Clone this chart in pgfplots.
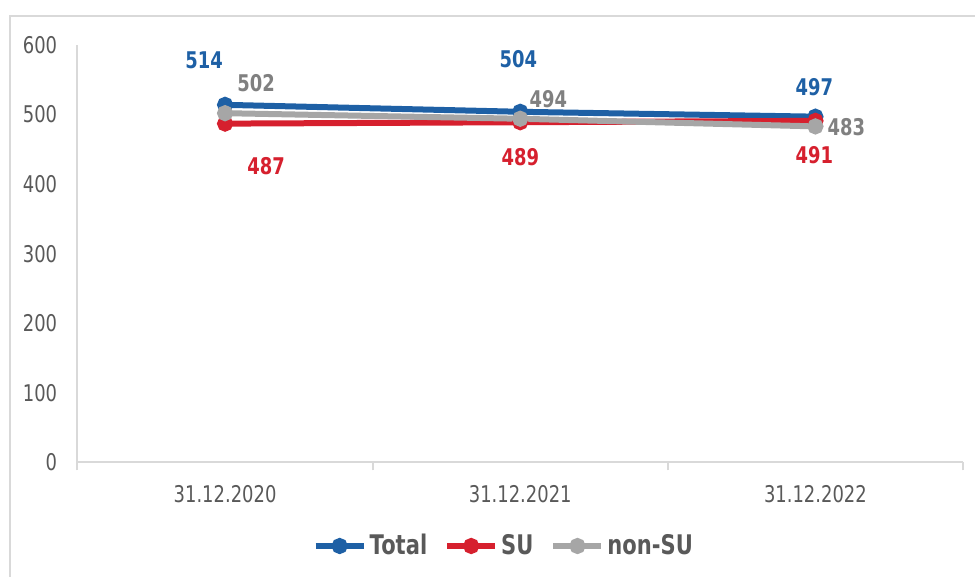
\documentclass[border=0pt]{standalone}
\usepackage{fontspec}
\setmainfont[FakeStretch=0.78]{DejaVu Sans}
\usepackage{pgfplots}
\usepackage{pgfplotstable}
\pgfplotsset{compat=1.18}
\definecolor{cblue}{RGB}{30,96,165}
\definecolor{cred}{RGB}{214,32,46}
\definecolor{cgray}{RGB}{166,166,166}
\definecolor{lgray}{RGB}{128,128,128}
\definecolor{tgray}{RGB}{89,89,89}
\definecolor{fgray}{RGB}{217,217,217}

\pgfplotstableread{
x y dx dy
0 514 -10.5 22.5
1 504 -1 26.5
2 497 -0.5 15
}\total
\pgfplotstableread{
x y dx dy
0 487 20.5 -21.5
1 489 0 -17.5
2 491 -0.5 -17
}\su
\pgfplotstableread{
x y dx dy
0 502 15.5 15
1 494 14 10
2 483 15.5 -0.5
}\nonsu

\begin{document}
\begin{tikzpicture}
\path[use as bounding box] (0,0) rectangle (487.5pt,288.5pt);
\draw[fgray, line width=1pt] (5pt,0pt) -- (5pt,280.5pt) -- (487.5pt,280.5pt);
\begin{axis}[
  at={(38.75pt,57.25pt)}, anchor=south west,
  scale only axis, width=442.75pt, height=208.75pt,
  xmin=-0.5, xmax=2.5, ymin=0, ymax=600,
  clip=false,
  axis x line*=bottom, axis y line*=left,
  axis line style={fgray, line width=1pt, -},
  xtick={0,1,2},
  xticklabels={31.12.2020,31.12.2021,31.12.2022},
  minor xtick={-0.5,0.5,1.5,2.5},
  ytick={0,100,...,600},
  major tick length=0pt,
  minor tick length=4pt,
  tick align=outside,
  minor tick style={fgray, line width=1pt},
  major tick style={draw=none},
  /pgf/number format/assume math mode=true,
  tick label style={font=\fontsize{11.5}{13}\selectfont, text=tgray},
  yticklabel style={inner sep=0pt, xshift=-10pt},
  xticklabel style={inner sep=0pt, anchor=north, yshift=-11.5pt},
  legend image code/.code={\draw[#1,mark repeat=2,mark phase=2] plot coordinates {(0pt,0pt) (12pt,0pt) (24pt,0pt)};},
  legend style={at={(0.482,-0.2)}, anchor=center, draw=none, fill=none,
    legend columns=3,
    font=\bfseries\fontsize{13.5}{15}\selectfont, text=tgray,
    nodes={inner sep=1.5pt},
    /tikz/every even column/.append style={column sep=7pt}},
  every axis plot/.append style={line width=3pt, mark=*, mark size=2.5pt},
  nodes near coords,
  point meta=y,
  visualization depends on={\thisrow{dx} \as \dx},
  visualization depends on={\thisrow{dy} \as \dy},
  nodes near coords style={anchor=center, inner sep=0pt, xshift=\dx pt, yshift=\dy pt,
    font=\bfseries\fontsize{11.5}{13}\selectfont},
]
\addplot[cblue, mark options={fill=cblue}, nodes near coords style={text=cblue}] table[x=x,y=y] {\total};
\addlegendentry{Total}
\addplot[cred, mark options={fill=cred}, nodes near coords style={text=cred}] table[x=x,y=y] {\su};
\addlegendentry{SU}
\addplot[cgray, mark options={fill=cgray}, nodes near coords style={text=lgray}] table[x=x,y=y] {\nonsu};
\addlegendentry{non-SU}
\end{axis}
\end{tikzpicture}
\end{document}
